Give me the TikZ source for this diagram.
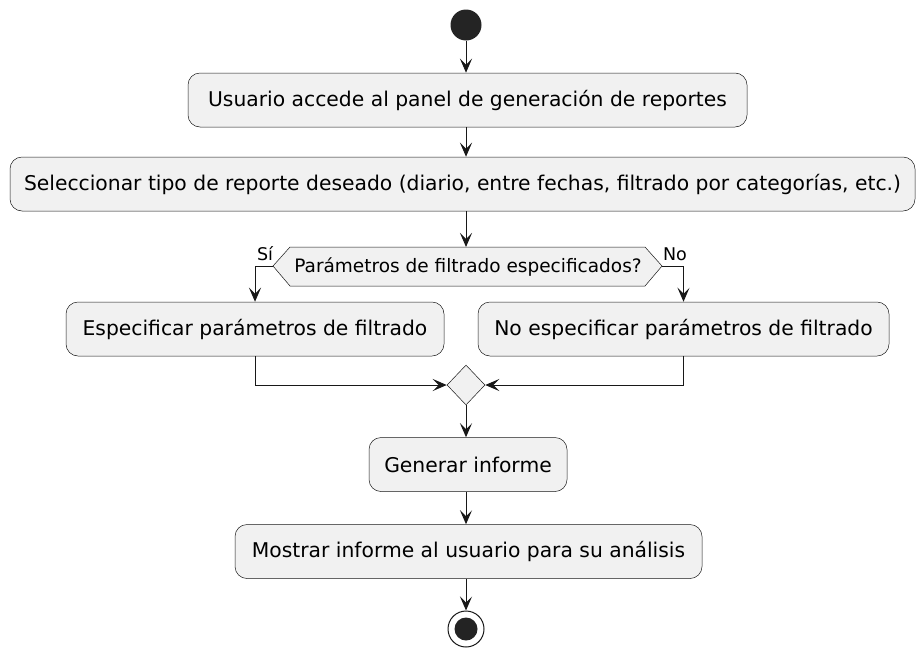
\documentclass[tikz,border=0pt]{standalone}
\usepackage{fontspec}
\setmainfont{DejaVu Sans}
\usetikzlibrary{arrows.meta,shapes.geometric}
\definecolor{actfill}{HTML}{F1F1F1}
\definecolor{actline}{HTML}{181818}

\tikzset{
  act/.style={draw=actline, fill=actfill, line width=0.5pt, rounded corners=12pt,
    inner sep=0pt, minimum height=54pt, font=\fontsize{20.3}{24}\selectfont},
  flow/.style={draw=actline, line width=1pt, -{Stealth[length=14pt,width=12pt,inset=6pt]}},
  guard/.style={font=\fontsize{17.5}{20}\selectfont, inner sep=0pt},
}

\begin{document}
\begin{tikzpicture}[x=1pt,y=-1pt]
    \useasboundingbox (0,0) rectangle (917,648);
    % inicio
    \node[circle, fill=actline!95, minimum size=31pt, inner sep=0pt] (inicio) at (466,25) {};
    \node[act, minimum width=559pt] (acceso) at (467.5,100) {Usuario accede al panel de generación de reportes};
    \node[act, minimum width=905pt] (tipo) at (462.5,184) {Seleccionar tipo de reporte deseado (diario, entre fechas, filtrado por categorías, etc.)};
    % decision
    \coordinate (decL) at (273,266);
    \coordinate (decR) at (662,266);
    \draw[draw=actline, fill=actfill, line width=0.5pt]
        (decL) -- (290,247) -- (645,247) -- (decR) -- (645,286) -- (290,286) -- cycle;
    \node[font=\fontsize{18.5}{22}\selectfont, inner sep=0pt] (dec) at (468,267) {Parámetros de filtrado especificados?};
    \coordinate (decT) at (466,247);
    \node[guard] (si) at (265,254) {Sí};
    \node[guard] (no) at (675,254) {No};
    \node[act, minimum width=378pt] (especificar) at (255,329) {Especificar parámetros de filtrado};
    \node[act, minimum width=411pt] (noespec) at (683.5,329) {No especificar parámetros de filtrado};
    \node[diamond, draw=actline, fill=actfill, line width=0.5pt, minimum width=38pt,
        minimum height=40pt, inner sep=0pt] (merge) at (466,385) {};
    \node[act, minimum width=198pt] (generar) at (468,464.5) {Generar informe};
    \node[act, minimum width=467pt] (mostrar) at (468.5,551.5) {Mostrar informe al usuario para su análisis};
    % fin
    \node[circle, draw=actline, line width=1pt, fill=white, minimum size=36pt, inner sep=0pt] (fin) at (466,629) {};
    \fill[actline!95] (fin) circle (11.5pt);

    \draw[flow] (inicio) -- (inicio |- acceso.north);
    \draw[flow] (inicio |- acceso.south) -- (inicio |- tipo.north);
    \draw[flow] (inicio |- tipo.south) -- (decT);
    \draw[flow] (decL) -| (especificar.north);
    \draw[flow] (decR) -| (noespec.north);
    \draw[flow] (especificar.south) |- (merge.west);
    \draw[flow] (noespec.south) |- (merge.east);
    \draw[flow] (merge.south) -- (inicio |- generar.north);
    \draw[flow] (inicio |- generar.south) -- (inicio |- mostrar.north);
    \draw[flow] (inicio |- mostrar.south) -- (fin.north);
\end{tikzpicture}
\end{document}
